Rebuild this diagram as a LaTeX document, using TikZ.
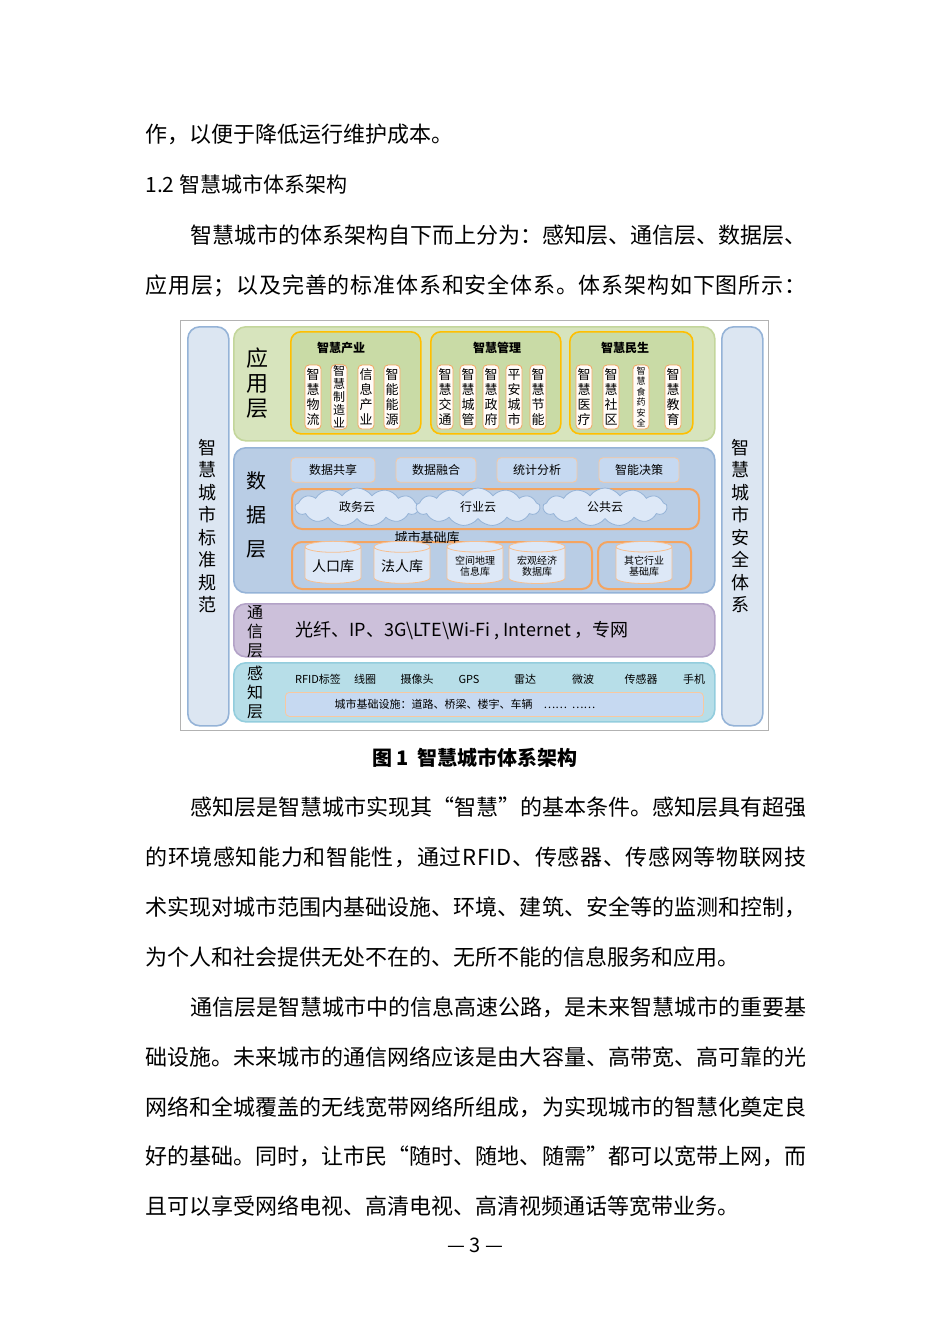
\documentclass[tikz,border=0pt]{standalone}
\usepackage{fontspec}
\setmainfont{Noto Sans CJK SC}
\usetikzlibrary{shapes.symbols,shapes.geometric}
\def\jl#1{\jlB#1\relax}\def\jlB#1{#1\jlA}\def\jlA#1{\ifx#1\relax\else\hfil#1\expandafter\jlA\fi}
\definecolor{appf}{HTML}{D7E4BD}\definecolor{appb}{HTML}{C3D69B}
\definecolor{grpf}{HTML}{C9DBA6}\definecolor{org}{HTML}{F4A460}
\definecolor{datf}{HTML}{B9CDE5}\definecolor{datb}{HTML}{95B3D7}
\definecolor{itf}{HTML}{C6D9F1}\definecolor{sidef}{HTML}{DCE6F2}
\definecolor{comf}{HTML}{CCC0DA}\definecolor{comb}{HTML}{B3A2C7}
\definecolor{senf}{HTML}{B7DEE8}\definecolor{senb}{HTML}{93CDDD}
\tikzset{
 body/.style={anchor=base west,inner sep=0,font=\fontsize{11}{11}\selectfont},
 lay/.style={draw,rounded corners=6pt,line width=0.8pt},
 grp/.style={draw=#1,rounded corners=5pt,line width=0.8pt},
 item/.style={draw=org,fill=white!85!orange!15,rounded corners=2pt,minimum width=8pt,minimum height=32pt,inner sep=0.5pt,font=\fontsize{6.5}{7.5}\selectfont,align=center,text width=7pt},
 top/.style={draw=org!60,fill=itf,rounded corners=2pt,minimum height=11pt,font=\fontsize{6}{6}\selectfont},
 cl/.style={cloud,cloud puffs=13,cloud puff arc=110,aspect=4,draw=datb,fill=white!40!itf,minimum width=62pt,minimum height=19pt,inner sep=0,font=\fontsize{6}{6}\selectfont},
 cyl/.style={cylinder,shape border rotate=90,aspect=0.25,draw=org!70,fill=itf!60!white,minimum width=28pt,minimum height=21pt,inner sep=0.5pt,align=center,font=\fontsize{5}{5.5}\selectfont},
 vt/.style={align=center,inner sep=0},
 sen/.style={font=\fontsize{5.5}{5.5}\selectfont,inner sep=0},
}
\begin{document}
\begin{tikzpicture}[x=0.5pt,y=-0.5pt]
\useasboundingbox (0,0) rectangle (950,1344);
% body text
\node[body] (l1) at (145,142) {作，以便于降低运行维护成本。};
\node[body,font=\fontsize{10.5}{10}\selectfont] (l2) at (145,192) {1.2\ 智慧城市体系架构};
\node[body] (l3) at (190,243) {\hbox to 308pt{\jl{智慧城市的体系架构自下而上分为：感知层、通信层、数据层、}}};
\node[body] (l4) at (145,293) {\hbox to 330.5pt{\jl{应用层；以及完善的标准体系和安全体系。体系架构如下图所示：}}};
% figure
\draw[gray!60] (180,320) rectangle (768,730);
\node[lay,draw=datb,fill=sidef,minimum width=20.5pt,minimum height=199.5pt,anchor=north west] (ls) at (187,326) {};
\node[vt,font=\fontsize{9}{11.25}\selectfont] (lst) at (207,526) {智\\慧\\城\\市\\标\\准\\规\\范};
\node[lay,draw=datb,fill=sidef,minimum width=20.5pt,minimum height=199.5pt,anchor=north west] (rs) at (721,326) {};
\node[vt,font=\fontsize{9}{11.25}\selectfont] (rst) at (740,526) {智\\慧\\城\\市\\安\\全\\体\\系};
% app layer
\node[lay,draw=appb,fill=appf,minimum width=240.5pt,minimum height=57pt,anchor=north west] (app) at (233,326) {};
\node[vt,font=\fontsize{11}{12.5}\selectfont] (appt) at (257,383) {应\\用\\层};
\node[grp=orange!50!yellow,fill=grpf,minimum width=65pt,minimum height=51pt,anchor=north west] (g1) at (290,331) {};
\node[grp=orange!50!yellow,fill=grpf,minimum width=65pt,minimum height=51pt,anchor=north west] (g2) at (430,331) {};
\node[grp=orange!50!yellow,fill=grpf,minimum width=61.5pt,minimum height=51pt,anchor=north west] (g3) at (569,331) {};
\node[font=\bfseries\fontsize{6}{6}\selectfont] (g1t) at (341,348) {智慧产业};
\node[font=\bfseries\fontsize{6}{6}\selectfont] (g2t) at (497,348) {智慧管理};
\node[font=\bfseries\fontsize{6}{6}\selectfont] (g3t) at (625,348) {智慧民生};
\node[item] (a1) at (313,397) {智\\慧\\物\\流};
\node[item,font=\fontsize{6}{6.5}\selectfont] (a2) at (339,397) {智\\慧\\制\\造\\业};
\node[item] (a3) at (366,397) {信\\息\\产\\业};
\node[item] (a4) at (392,397) {智\\能\\能\\源};
\node[item] (b1) at (445,397) {智\\慧\\交\\通};
\node[item] (b2) at (468,397) {智\\慧\\城\\管};
\node[item] (b3) at (491,397) {智\\慧\\政\\府};
\node[item] (b4) at (514,397) {平\\安\\城\\市};
\node[item] (b5) at (538,397) {智\\慧\\节\\能};
\node[item] (c1) at (584,397) {智\\慧\\医\\疗};
\node[item] (c2) at (611,397) {智\\慧\\社\\区};
\node[item,font=\fontsize{4.5}{5.2}\selectfont] (c3) at (641,397) {智\\慧\\食\\药\\安\\全};
\node[item] (c4) at (673,397) {智\\慧\\教\\育};
% data layer
\node[lay,draw=datb,fill=datf,minimum width=240.5pt,minimum height=72.5pt,anchor=north west] (dat) at (233,447) {};
\node[vt,font=\fontsize{10}{17}\selectfont] (datt) at (256,515) {数\\据\\层};
\node[top,minimum width=42pt] (d1) at (333,470) {数据共享};
\node[top,minimum width=40pt] (d2) at (436,470) {数据融合};
\node[top,minimum width=40pt] (d3) at (537,470) {统计分析};
\node[top,minimum width=40pt] (d4) at (639,470) {智能决策};
\node[draw=org,line width=1pt,rounded corners=5pt,minimum width=203.5pt,minimum height=20pt,anchor=north west] (cb) at (291,488) {};
\node[cl] (k1) at (357,507) {政务云};
\node[cl] (k2) at (478,507) {行业云};
\node[cl] (k3) at (605,507) {公共云};
\node[draw=org,line width=1pt,rounded corners=5pt,minimum width=150pt,minimum height=23.5pt,anchor=north west] (bb) at (291,541) {};
\node[font=\fontsize{6.5}{6.5}\selectfont,inner sep=0] (bbt) at (427,538) {城市基础库};
\node[draw=org,line width=1pt,rounded corners=5pt,minimum width=46.5pt,minimum height=23.5pt,anchor=north west] (ob) at (597,541) {};
\node[cyl,font=\fontsize{7}{7}\selectfont] (y1) at (333,566) {人口库};
\node[cyl,font=\fontsize{7}{7}\selectfont] (y2) at (402,566) {法人库};
\node[cyl] (y3) at (475,566) {空间地理\\信息库};
\node[cyl] (y4) at (537,566) {宏观经济\\数据库};
\node[cyl] (y5) at (644,566) {其它行业\\基础库};
% comm layer
\node[lay,draw=comb,fill=comf,minimum width=240.5pt,minimum height=26.5pt,anchor=north west] (com) at (233,603) {};
\node[vt,font=\fontsize{8}{9.5}\selectfont] (comt) at (255,632) {通\\信\\层};
\node[anchor=west,inner sep=0,font=\fontsize{9}{9}\selectfont] (comx) at (295,631) {光纤、IP、3G\textbackslash LTE\textbackslash Wi-Fi , Internet ，专网};
% sensing layer
\node[lay,draw=senb,fill=senf,minimum width=240.5pt,minimum height=29.5pt,anchor=north west] (sen) at (233,662) {};
\node[vt,font=\fontsize{8}{9.5}\selectfont] (sent) at (255,692) {感\\知\\层};
\node[sen] (s1) at (318,679) {RFID标签};
\node[sen] (s2) at (365,679) {线圈};
\node[sen] (s3) at (417,679) {摄像头};
\node[sen] (s4) at (469,679) {GPS};
\node[sen] (s5) at (525,679) {雷达};
\node[sen] (s6) at (583,679) {微波};
\node[sen] (s7) at (641,679) {传感器};
\node[sen] (s8) at (694,679) {手机};
\node[draw=org!60,fill=itf,rounded corners=2pt,minimum width=209pt,minimum height=12pt,anchor=north west] (infra) at (285,692) {};
\node[sen] (infrat) at (465,704) {城市基础设施：道路、桥梁、楼宇、车辆\quad ……\ \ ……};
% caption
\node[font=\bfseries\fontsize{10}{10}\selectfont] (cap) at (475,758) {图 1\ \ 智慧城市体系架构};
% remaining text
\node[body] (m1) at (190,815) {\hbox to 308pt{\jl{感知层是智慧城市实现其“智慧”的基本条件。感知层具有超强}}};
\node[body] (m2) at (145,865) {\hbox to 330.5pt{\jl{的环境感知能力和智能性，通过RFID、传感器、传感网等物联网技}}};
\node[body] (m3) at (145,915) {\hbox to 330.5pt{\jl{术实现对城市范围内基础设施、环境、建筑、安全等的监测和控制，}}};
\node[body] (m4) at (145,965) {为个人和社会提供无处不在的、无所不能的信息服务和应用。};
\node[body] (n1) at (190,1015) {\hbox to 308pt{\jl{通信层是智慧城市中的信息高速公路，是未来智慧城市的重要基}}};
\node[body] (n2) at (145,1065) {\hbox to 330.5pt{\jl{础设施。未来城市的通信网络应该是由大容量、高带宽、高可靠的光}}};
\node[body] (n3) at (145,1115) {\hbox to 330.5pt{\jl{网络和全城覆盖的无线宽带网络所组成，为实现城市的智慧化奠定良}}};
\node[body] (n4) at (145,1164) {\hbox to 330.5pt{\jl{好的基础。同时，让市民“随时、随地、随需”都可以宽带上网，而}}};
\node[body] (n5) at (145,1214) {且可以享受网络电视、高清电视、高清视频通话等宽带业务。};
\node[font=\fontsize{10}{10}\selectfont] (pg) at (475,1245) {— 3 —};
\end{tikzpicture}
\end{document}
